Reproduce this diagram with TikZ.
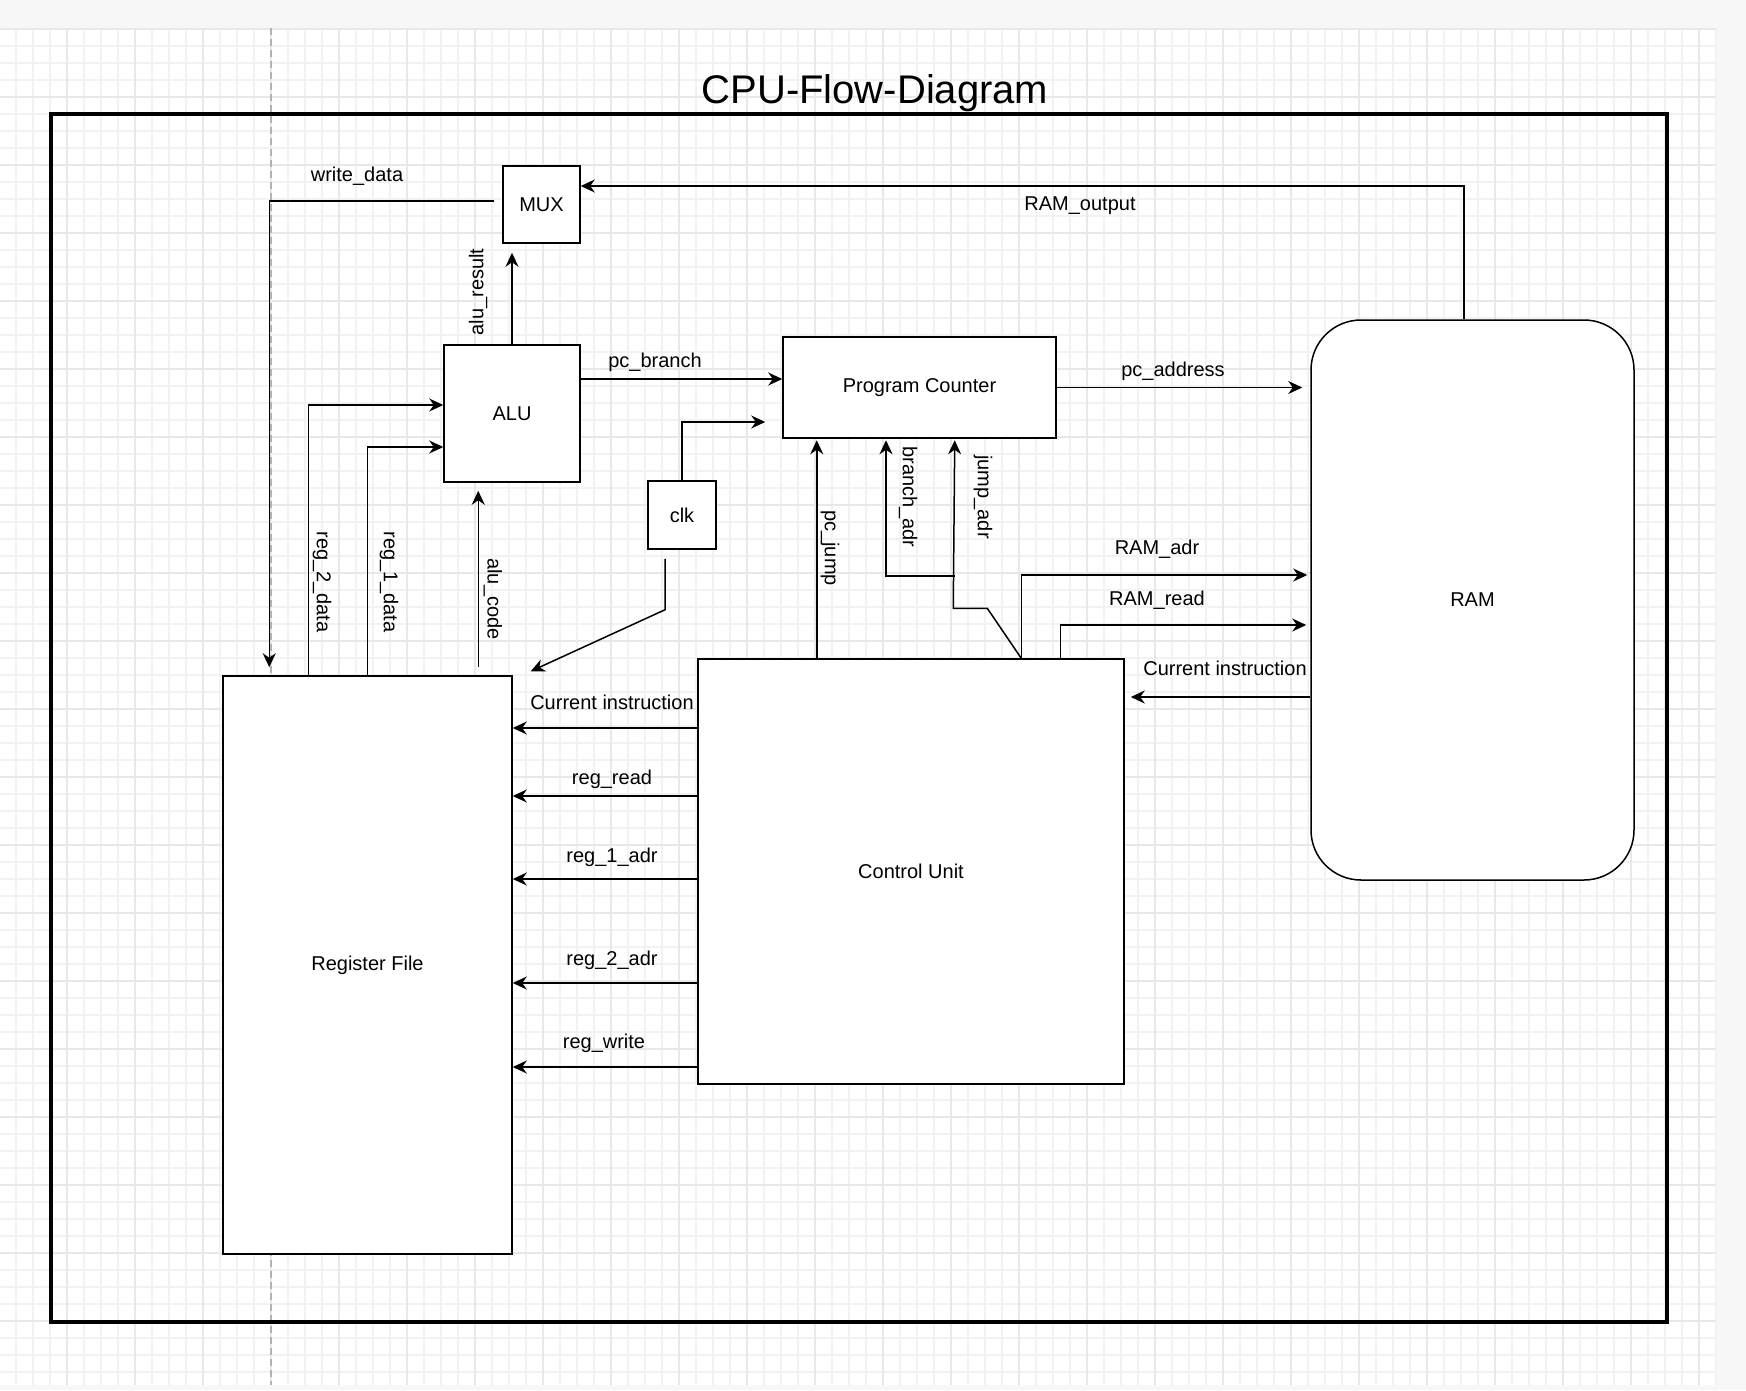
\documentclass[tikz,border=0pt]{standalone}
\usepackage{fontspec}
\setmainfont{Liberation Sans}
\usetikzlibrary{arrows.meta}
\newcommand\lblfont{\fontsize{20}{24}\selectfont}
\begin{document}
\begin{tikzpicture}[x=1pt,y=-1pt,
  box/.style={draw=black, line width=1.5pt, fill=white, inner sep=0pt, font=\lblfont},
  conn/.style={line width=1.5pt, -{Stealth[length=14pt,width=13pt,inset=4.5pt]}},
  lab/.style={inner sep=0pt, font=\lblfont},
  gminor/.style={draw=black!5, line width=1.1pt},
  gmajor/.style={draw=black!9, line width=1.3pt}]
\useasboundingbox (0,0) rectangle (1746,1390);
% page background and canvas
\fill[black!3] (0,0) rectangle (1746,1390);
\fill[white] (0,28) rectangle (1716,1385);
\foreach \i in {1,...,101} { \draw[gminor] ({\i*17-1},28) -- ({\i*17-1},1385); }
\foreach \i in {0,...,79} { \draw[gminor] (0,{29+\i*17}) -- (1716,{29+\i*17}); }
\foreach \i in {1,...,25} { \draw[gmajor] ({\i*68-1},28) -- ({\i*68-1},1385); }
\foreach \i in {0,...,19} { \draw[gmajor] (0,{29+\i*68}) -- (1716,{29+\i*68}); }
\draw[black!30, line width=1.2pt, dash pattern=on 7pt off 4pt] (271,28) -- (271,1385);

% frame and title
\node[draw=black, line width=3.2pt, minimum width=1616pt, minimum height=1208pt, inner sep=0pt] (frame) at (859,718) {};
\node[inner sep=0pt, anchor=base, font=\fontsize{40}{48}\selectfont] (title) at (875,103) {CPU-Flow-Diagram};

% blocks
\node[box, minimum width=77pt, minimum height=77pt] (mux) at (541.5,204.5) {MUX};
\node[box, minimum width=136pt, minimum height=137pt] (alu) at (512,413.5) {ALU};
\node[box, minimum width=273pt, minimum height=101pt] (pc) at (919.5,387.5) {Program Counter};
\node[box, minimum width=68pt, minimum height=68pt] (clk) at (682,515) {clk};
\node[box, rounded corners=50pt, minimum width=323pt, minimum height=560pt] (ram) at (1472.5,600) {RAM};
\node[box, minimum width=289pt, minimum height=578pt] (rf) at (367.5,965) {Register File};
\node[box, minimum width=426pt, minimum height=425pt] (cu) at (911,871.5) {Control Unit};

% connectors
\draw[conn] ([shift={(-8,-3.5)}]mux.west) -| ([shift={(47,-8)}]rf.north west);
\draw[conn] ([shift={(-8.5,0)}]ram.north) |- ([shift={(0,-18.5)}]mux.east);
\draw[conn, shorten >=9pt] (alu.north) -- (alu.north |- mux.south);
\draw[conn] ([shift={(0,-34.5)}]alu.east) -- ([shift={(0,-34.5)}]alu.east -| pc.west);
\draw[conn] (clk.north) |- ([shift={(-17,34.5)}]pc.west);
\draw[conn] ([shift={(-17,9)}]clk.south) -- ++(0,51) -- ([shift={(18,-4)}]rf.north east);
\draw[conn] ([shift={(86,0)}]rf.north west) |- ([shift={(0,-8.5)}]alu.west);
\draw[conn] (rf.north) |- ([shift={(0,33.5)}]alu.west);
\coordinate (aluc) at ([shift={(-34.5,-8)}]rf.north east);
\draw[conn, shorten >=8pt] (aluc) -- (aluc |- alu.south);
\coordinate (pcj) at ([shift={(119.5,0)}]cu.north west);
\draw[conn, shorten >=1.5pt] (pcj) -- (pcj |- pc.south);
\coordinate (cuj) at ([shift={(324,0)}]cu.north west);
\draw[conn, shorten >=1.5pt] (cuj) -- ++(-34,-50) -- ++(-34,0) -- ([shift={(-102,0)}]pc.south east);
\draw[conn, shorten >=1.5pt] ([shift={(-102,137)}]pc.south east) -| ([shift={(-33.5,0)}]pc.south);
\draw[conn] (cuj) |- ([shift={(-3,-25)}]ram.west);
\draw[conn] ([shift={(363,0)}]cu.north west) |- ([shift={(-4,25)}]ram.west);
\draw[conn, shorten >=8pt] (pc.east) -- (pc.east -| ram.west);
\coordinate (rci) at ([shift={(0,97)}]ram.west);
\draw[conn, shorten >=6pt] (rci) -- (rci -| cu.east);
\foreach \n/\d in {c1/-143.5, c2/-75.5, c3/7.5, c4/111.5, c5/195.5} {
  \coordinate (\n) at ([shift={(0,\d)}]cu.west);
  \draw[conn] (\n) -- (\n -| rf.east);
}

% labels
\node[lab] (l-wd) at (357,176) {write\_data};
\node[lab] (l-ro) at (1080,206) {RAM\_output};
\node[lab, rotate=90] (l-ar) at (478,292) {alu\_result};
\node[lab] (l-pb) at (655,362) {pc\_branch};
\node[lab] (l-pa) at (1173,371) {pc\_address};
\node[lab, rotate=-90] (l-r2) at (322,582) {reg\_2\_data};
\node[lab, rotate=-90] (l-r1) at (389,582) {reg\_1\_data};
\node[lab, rotate=-90] (l-ac) at (493,599) {alu\_code};
\node[lab, rotate=-90] (l-pj) at (830,548) {pc\_jump};
\node[lab, rotate=-90] (l-ba) at (908,497) {branch\_adr};
\node[lab, rotate=-90] (l-ja) at (983,497) {jump\_adr};
\node[lab] (l-ra) at (1157,549) {RAM\_adr};
\node[lab] (l-rr) at (1157,600) {RAM\_read};
\node[lab] (l-ci2) at (1225,668) {Current instruction};
\node[lab] (l-ci1) at (612,702) {Current instruction};
\node[lab] (l-rd) at (612,779) {reg\_read};
\node[lab] (l-1a) at (612,857) {reg\_1\_adr};
\node[lab] (l-2a) at (612,960) {reg\_2\_adr};
\node[lab] (l-rw) at (604,1043) {reg\_write};
\end{tikzpicture}
\end{document}
